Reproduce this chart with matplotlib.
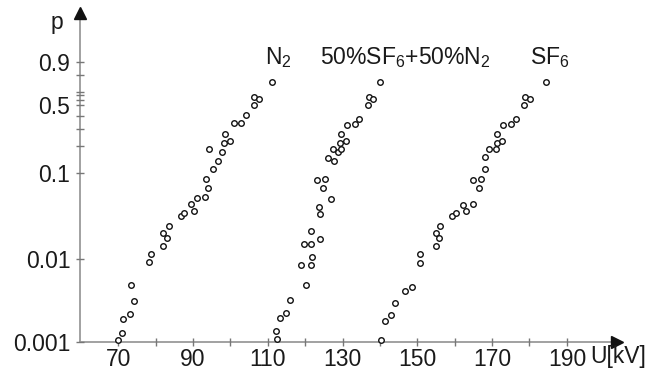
import numpy as np
import matplotlib
matplotlib.use("Agg")
import matplotlib.pyplot as plt

plt.rcParams['font.family'] = ['Liberation Sans', 'DejaVu Sans']
plt.rcParams['mathtext.fontset'] = 'custom'
plt.rcParams['mathtext.rm'] = 'Liberation Sans'
plt.rcParams['mathtext.default'] = 'regular'

# 数据：击穿电压 U [kV] 与累积概率 p（Weibull 概率纸）
u_n2 = [70.0, 70.9, 71.3, 73.2, 73.5, 74.2, 78.3, 78.7, 82.0, 82.0, 83.0, 83.5,
        86.7, 87.6, 89.5, 90.2, 91.0, 93.3, 93.9, 93.4, 94.2, 95.4, 96.8, 97.9,
        98.4, 98.7, 99.9, 100.9, 102.9, 104.1, 106.4, 106.4, 107.7, 111.2]
p_n2 = [0.00105, 0.00128, 0.00189, 0.00215, 0.0048, 0.0031, 0.0091, 0.0112,
        0.0141, 0.0202, 0.0175, 0.0242, 0.0316, 0.0345, 0.0444, 0.0371, 0.0522,
        0.0536, 0.0677, 0.0860, 0.1876, 0.1109, 0.1385, 0.1715, 0.2159, 0.2661,
        0.2283, 0.3447, 0.3447, 0.4073, 0.5040, 0.5771, 0.5601, 0.728]

u_mix = [112.4, 112.2, 113.2, 114.8, 115.9, 120.3, 118.9, 121.5, 121.8, 119.7,
         121.5, 121.6, 124.1, 124.0, 123.6, 126.9, 124.7, 123.1, 125.3, 126.1,
         127.7, 127.5, 128.7, 129.5, 129.3, 130.8, 129.5, 131.3, 133.4, 134.5,
         136.8, 137.2, 138.1, 139.9]
p_mix = [0.00109, 0.00136, 0.00194, 0.00223, 0.00317, 0.00476, 0.00827, 0.00827,
         0.0104, 0.0147, 0.0149, 0.0213, 0.0170, 0.0336, 0.0409, 0.0508, 0.0677,
         0.0831, 0.0860, 0.1496, 0.1375, 0.1861, 0.1727, 0.1861, 0.2159, 0.2283,
         0.2661, 0.3297, 0.3349, 0.3765, 0.5012, 0.5771, 0.5601, 0.728]

u_sf6 = [140.2, 141.3, 143.0, 144.1, 146.8, 148.7, 150.7, 150.7, 154.9, 154.9,
         155.7, 156.2, 159.3, 160.3, 162.1, 163.0, 164.8, 166.4, 164.9, 167.1,
         168.0, 168.0, 169.2, 171.1, 171.2, 172.6, 171.3, 173.0, 175.1, 176.3,
         178.5, 178.7, 180.2, 184.5]
p_sf6 = [0.00105, 0.00181, 0.00208, 0.00294, 0.00414, 0.00457, 0.00889, 0.0112,
         0.0141, 0.0202, 0.0175, 0.0242, 0.0316, 0.0345, 0.0432, 0.0371, 0.0444,
         0.0677, 0.0831, 0.0860, 0.1109, 0.1511, 0.1861, 0.1876, 0.2176, 0.2283,
         0.2661, 0.3297, 0.3349, 0.3765, 0.5012, 0.5771, 0.5601, 0.728]

x_major = [70, 90, 110, 130, 150, 170, 190]
x_minor = [80, 100, 120, 140, 160, 180]
y_major = [0.001, 0.01, 0.1, 0.5, 0.9]
y_labels = ['0.001', '0.01', '0.1', '0.5', '0.9']
y_minor = [0.2, 0.3, 0.4, 0.55, 0.6, 0.632, 0.8]


def weibull_fwd(p):
    p = np.clip(np.asarray(p, dtype=float), 1e-12, 1 - 1e-12)
    return np.log(-np.log(1 - p))


def weibull_inv(w):
    return 1 - np.exp(-np.exp(np.asarray(w, dtype=float)))


W, H = 657, 379
fs = 16.5
fig = plt.figure(figsize=(W / 100, H / 100), dpi=100)
ax = fig.add_axes([80 / W, 37 / H, (617 - 80) / W, (342 - 13) / H])
ax.set_yscale('function', functions=(weibull_fwd, weibull_inv))

mk = dict(ls='none', marker='o', ms=4.0, mfc='white', mec='#111111', mew=1.0,
          clip_on=False, zorder=3)
ax.plot(u_n2, p_n2, **mk)
ax.plot(u_mix, p_mix, **mk)
ax.plot(u_sf6, p_sf6, **mk)

ax.set_xlim(59.8, 203.4)
ax.set_ylim(0.001, 0.99986)

for s in ['top', 'right']:
    ax.spines[s].set_visible(False)
for s in ['left', 'bottom']:
    ax.spines[s].set_color('#9a9a9a')
    ax.spines[s].set_linewidth(1.3)
    ax.spines[s].set_zorder(1)

ax.set_xticks(x_major)
ax.set_xticks(x_minor, minor=True)
ax.set_yticks(y_major)
ax.set_yticklabels(y_labels)
ax.set_yticks(y_minor, minor=True)
ax.yaxis.set_minor_formatter(plt.NullFormatter())
ax.tick_params(which='both', direction='inout', length=6, width=1.0,
               color='#777777', labelsize=fs, labelcolor='#1a1a1a')
ax.tick_params(axis='x', pad=1.5)
ax.tick_params(axis='y', pad=4)

# 坐标轴箭头
ax.plot(1, 0, marker='>', ms=9, color='#111111', transform=ax.transAxes,
        clip_on=False)
ax.plot(0, 1, marker='^', ms=9, color='#111111', transform=ax.transAxes,
        clip_on=False)

fig.text(57 / W, 1 - 22 / H, 'p', fontsize=fs, ha='center', va='center',
         color='#1a1a1a')
fig.text(590 / W, 1 - 357 / H, 'U[kV]', fontsize=fs, ha='left', va='center',
         color='#1a1a1a')

fig.text(265 / W, 1 - 58 / H, 'N$_2$', fontsize=fs, ha='left', va='center',
         color='#1a1a1a')
fig.text(320 / W, 1 - 58 / H, '50%SF$_6$+50%N$_2$', fontsize=fs, ha='left',
         va='center', color='#1a1a1a')
fig.text(530 / W, 1 - 58 / H, 'SF$_6$', fontsize=fs, ha='left', va='center',
         color='#1a1a1a')

fig.savefig('out.png', dpi=100)
